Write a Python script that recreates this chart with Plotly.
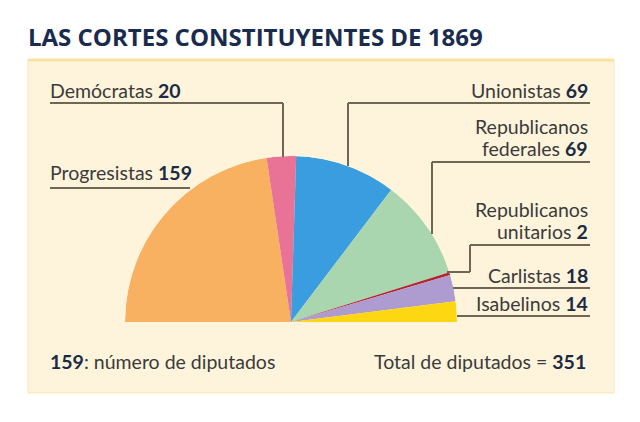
import plotly.graph_objects as go

# ---- data ----
parties = ["Progresistas", "Demócratas", "Unionistas", "Republicanos federales",
           "Republicanos unitarios", "Carlistas", "Isabelinos"]
seats = [159, 20, 69, 69, 2, 18, 14]
colors = ["#F7B161", "#E97396", "#3A9DE0", "#A9D6AE", "#B5232F", "#AE9BCF", "#FDD711"]
total_seats = sum(seats)

W, H = 640, 422
def px(x):
    return x / W
def py(y):
    return 1 - y / H

# angular positions computed from the data (0..180 deg across the half disc)
thetas, widths = [], []
cum = 0
for v in seats:
    widths.append(v * 180 / total_seats)
    thetas.append((cum + v / 2) * 180 / total_seats)
    cum += v

fig = go.Figure()
fig.add_trace(go.Barpolar(
    r=[1] * len(seats), theta=thetas, width=widths, base=0,
    marker=dict(color=colors, line=dict(width=0)),
    hoverinfo="skip", showlegend=False,
))

cx, cy, R = 291, 322, 166
fig.update_layout(
    width=W, height=H,
    margin=dict(l=0, r=0, t=0, b=0),
    paper_bgcolor="white",
    plot_bgcolor="white",
    showlegend=False,
    polar=dict(
        domain=dict(x=[px(cx - R), px(cx + R)], y=[py(cy), py(cy - R)]),
        sector=[0, 180],
        bgcolor="rgba(0,0,0,0)",
        bargap=0,
        radialaxis=dict(visible=False, range=[0, 1], showgrid=False),
        angularaxis=dict(visible=False, rotation=180, direction="clockwise",
                         showgrid=False, showline=False),
    ),
)

shapes = []
# cream panel
shapes.append(dict(type="rect", xref="paper", yref="paper", layer="below",
                   x0=px(28), x1=px(614), y0=py(393), y1=py(60),
                   fillcolor="#FEF4DB", line=dict(color="#F6E6B5", width=1)))
shapes.append(dict(type="line", xref="paper", yref="paper", layer="below",
                   x0=px(28), x1=px(614), y0=py(60), y1=py(60),
                   line=dict(color="#F7E2A0", width=3)))

lc = dict(color="#6E6755", width=2)
def seg(x0, y0, x1, y1):
    shapes.append(dict(type="line", xref="paper", yref="paper", layer="above",
                       x0=px(x0), y0=py(y0), x1=px(x1), y1=py(y1), line=lc))

# leader lines
seg(50, 103, 283, 103); seg(283, 103, 283, 157)          # Demócratas
seg(50, 188, 190, 188)                                   # Progresistas
seg(348, 103, 590, 103); seg(348, 103, 348, 166)         # Unionistas
seg(432, 162, 590, 162); seg(432, 162, 432, 234)         # Rep. federales
seg(470, 245, 590, 245); seg(470, 245, 470, 272); seg(470, 272, 447, 272)  # Rep. unitarios
seg(453, 288, 590, 288)                                  # Carlistas
seg(457, 316, 590, 316)                                  # Isabelinos
fig.update_layout(shapes=shapes)

NAME = "#3B3B3B"
NUM = "#1B2A45"
FONT = "Lato"
fs = 19.5

def lab(name, value):
    return f"<span style='color:{NAME}'>{name}</span> <b><span style='color:{NUM}'>{value}</span></b>"

ann = []
def add(text, x, y, xanchor):
    ann.append(dict(text=text, x=px(x), y=py(y), xref="paper", yref="paper",
                    xanchor=xanchor, yanchor="middle", showarrow=False,
                    font=dict(family=FONT, size=fs, color=NAME), align="right"))

add(lab(parties[1], seats[1]), 48, 91, "left")
add(lab(parties[0], seats[0]), 48, 172, "left")
add(lab(parties[2], seats[2]), 590, 91, "right")
add(f"<span style='color:{NAME}'>Republicanos</span>", 590, 127, "right")
add(lab("federales", seats[3]), 590, 148, "right")
add(f"<span style='color:{NAME}'>Republicanos</span>", 590, 210, "right")
add(lab("unitarios", seats[4]), 590, 231, "right")
add(lab(parties[5], seats[5]), 590, 275, "right")
add(lab(parties[6], seats[6]), 590, 303, "right")
add(f"<b><span style='color:{NUM}'>{seats[0]}</span></b><span style='color:{NAME}'>: número de diputados</span>", 48, 361, "left")
add(f"<span style='color:{NAME}'>Total de diputados = </span><b><span style='color:{NUM}'>{total_seats}</span></b>", 588, 361, "right")

ann.append(dict(text="<b>LAS CORTES CONSTITUYENTES DE 1869</b>", x=px(26), y=py(37),
                xref="paper", yref="paper", xanchor="left", yanchor="middle",
                showarrow=False, font=dict(family="Open Sans", size=24, color="#1A2C4E")))
fig.update_layout(annotations=ann)

fig.write_html("out.html", config={"displayModeBar": False},
               post_script="document.body.style.margin='0';")
